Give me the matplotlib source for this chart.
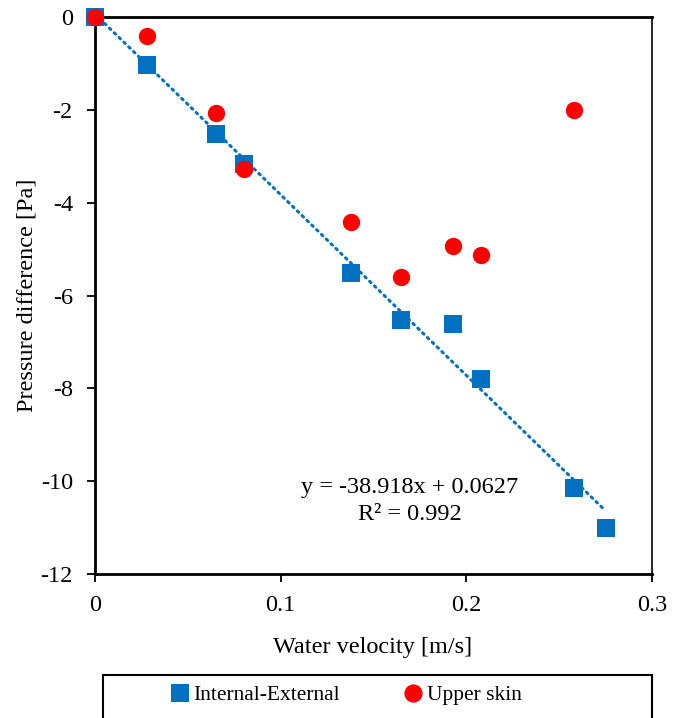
import matplotlib
matplotlib.use("Agg")
import matplotlib.pyplot as plt
import numpy as np
from matplotlib.patches import Rectangle

plt.rcParams['font.family'] = ['Liberation Serif', 'DejaVu Serif']

# Data
vel_int = [0.0, 0.028, 0.065, 0.080, 0.138, 0.165, 0.193, 0.208, 0.258, 0.275]
dp_int = [0.0, -1.03, -2.52, -3.17, -5.52, -6.53, -6.62, -7.79, -10.15, -11.01]
vel_up = [0.0, 0.028, 0.065, 0.080, 0.138, 0.165, 0.193, 0.208, 0.258]
dp_up = [0.0, -0.42, -2.06, -3.28, -4.42, -5.60, -4.94, -5.13, -2.00]
slope, intercept = -38.918, 0.0627
x_ticks = [0, 0.1, 0.2, 0.3]
y_ticks = [0, -2, -4, -6, -8, -10, -12]

W, H = 686, 718
fig = plt.figure(figsize=(W / 100, H / 100), dpi=100)
ax = fig.add_axes([95 / W, 1 - 574 / H, (652 - 95) / W, (574 - 17) / H])

blue = '#0070C0'
red = '#FF0000'
fs = 17.5

xs = np.array([min(vel_int), max(vel_int)])
ax.plot(xs, slope * xs + intercept, linestyle=(0, (0.6, 1.6)), color=blue, lw=2.2,
        dash_capstyle='round', zorder=2)
ax.plot(vel_int, dp_int, 's', color=blue, markersize=12.5, markeredgewidth=0,
        label='Internal-External', zorder=3, clip_on=False)
ax.plot(vel_up, dp_up, 'o', color=red, markersize=12.5, markeredgewidth=0,
        label='Upper skin', zorder=4, clip_on=False)

ax.set_xlim(0, 0.3)
ax.set_ylim(-12, 0)
ax.set_xticks(x_ticks)
ax.set_xticklabels(['0', '0.1', '0.2', '0.3'])
ax.set_yticks(y_ticks)
ax.set_yticklabels([str(v) for v in y_ticks])
ax.tick_params(axis='both', direction='out', length=6, width=1.3, labelsize=fs, colors='black')
ax.tick_params(axis='y', pad=10)
ax.tick_params(axis='x', pad=9)

for side in ['left', 'bottom', 'top']:
    ax.spines[side].set_linewidth(2)
ax.spines['right'].set_linewidth(1.2)
for s in ax.spines.values():
    s.set_color('black')

ax.set_xlabel('Water velocity [m/s]', fontsize=fs, va='center')
ax.set_ylabel('Pressure difference [Pa]', fontsize=fs, va='center')
ax.xaxis.set_label_coords((373 - 95) / 557, (574 - 648) / 557)
ax.yaxis.set_label_coords((27 - 95) / 557, 0.5)

ax.text((410 - 95) / 557, 1 - (487 - 17) / 557, 'y = -38.918x + 0.0627', transform=ax.transAxes,
        ha='center', va='center', fontsize=fs)
ax.text((410 - 95) / 557, 1 - (515 - 17) / 557, 'R² = 0.992', transform=ax.transAxes,
        ha='center', va='center', fontsize=fs)

# Legend box (cut off at bottom)
rect = Rectangle((103 / W, 1 - 730 / H), (652 - 103) / W, (730 - 675) / H,
                 transform=fig.transFigure, fill=False, edgecolor='black', lw=1.5,
                 clip_on=False)
fig.patches.append(rect)
h, l = ax.get_legend_handles_labels()
leg = fig.legend(h, l, loc='center left', bbox_to_anchor=(171 / W, 1 - 695 / H),
                 ncol=2, frameon=False, fontsize=15.5, handlelength=0.8, handletextpad=0.25,
                 columnspacing=3.0, borderpad=0, borderaxespad=0, markerscale=1.05)

fig.savefig('out.png', dpi=100)
